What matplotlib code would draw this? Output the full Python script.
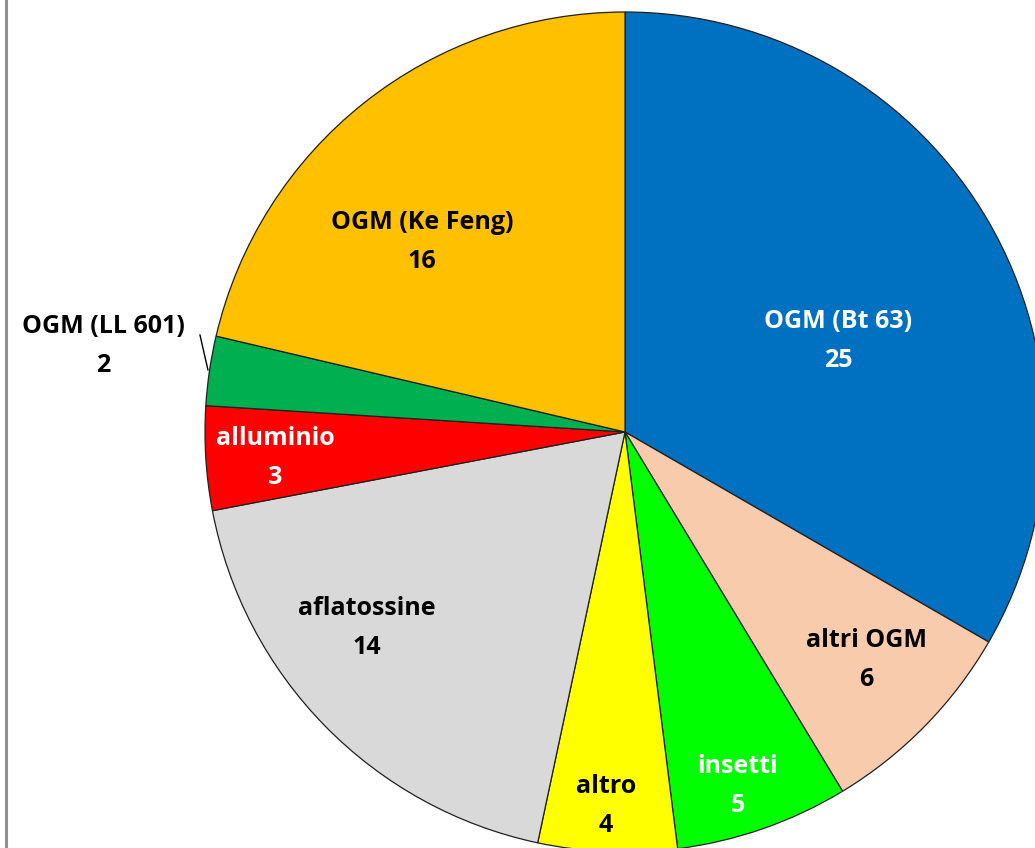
import matplotlib.pyplot as plt
from matplotlib.lines import Line2D

categories = ["OGM (Bt 63)", "altri OGM", "insetti", "altro", "aflatossine",
              "alluminio", "OGM (LL 601)", "OGM (Ke Feng)"]
values = [25, 6, 5, 4, 14, 3, 2, 16]
colors = ["#0070C0", "#F8CBAD", "#00FF00", "#FFFF00", "#D9D9D9",
          "#FF0000", "#00B050", "#FFC000"]
text_colors = ["white", "black", "white", "black", "black",
               "white", "black", "black"]

# label positions in radius units (centre = 0, 0)
label_pos = [(0.507, 0.217), (0.574, -0.543), (0.269, -0.843), (-0.045, -0.890),
             (-0.614, -0.467), (-0.833, -0.062), (-1.243, 0.205), (-0.483, 0.452)]

plt.rcParams["font.family"] = ["Open Sans", "DejaVu Sans"]

W, H = 1035, 848
cx, cy, R = 625, 432, 420
fig = plt.figure(figsize=(W / 100, H / 100), dpi=100)
ax = fig.add_axes([0, 0, 1, 1])

ax.pie(values, colors=colors, startangle=90, counterclock=False, radius=1,
       wedgeprops=dict(edgecolor="#202020", linewidth=0.9))
ax.set_aspect("auto")
ax.set_xlim(-cx / R, (W - cx) / R)
ax.set_ylim(-(H - cy) / R, cy / R)
ax.axis("off")

for name, v, (x, y), tc in zip(categories, values, label_pos, text_colors):
    ax.text(x, y, f"{name}\n{v}", ha="center", va="center", color=tc,
            fontsize=18, fontweight="bold", linespacing=1.75)

# leader line for the small slice
ax.plot([-1.012, -0.993], [0.231, 0.148], color="black", linewidth=1)

fig.add_artist(Line2D([5.5 / W, 5.5 / W], [0, 1], color="#909090", linewidth=2.2))

fig.savefig("out.png", dpi=100)
